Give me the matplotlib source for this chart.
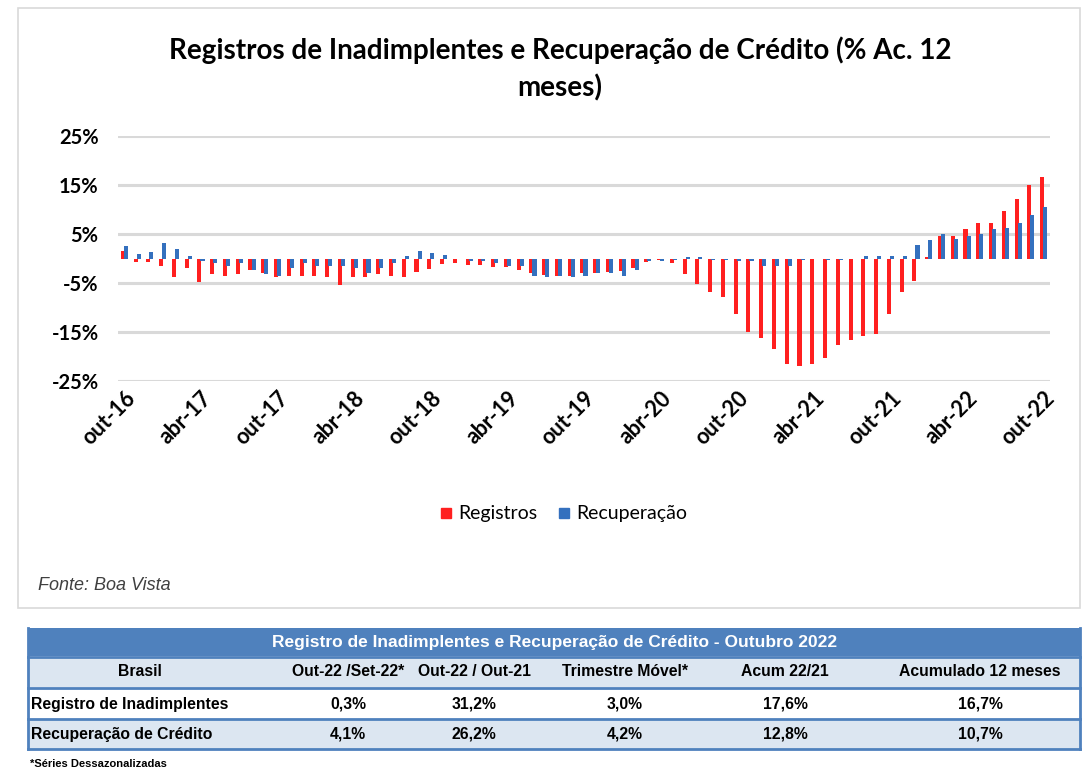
import matplotlib
matplotlib.use("Agg")
import matplotlib.pyplot as plt
from matplotlib.patches import Rectangle
from matplotlib.lines import Line2D

plt.rcParams['font.family'] = ['Lato', 'DejaVu Sans']

# monthly series, out-16 .. out-22 (% acumulado 12 meses)
registros = [1.5, -0.7, -0.8, -1.5, -3.8, -2.0, -4.8, -3.1, -3.5, -3.1,
             -2.4, -3.0, -3.8, -3.5, -3.5, -3.5, -3.8, -5.5, -3.8, -3.8,
             -3.1, -3.5, -3.8, -2.8, -2.1, -1.1, -1.0, -1.4, -1.4, -1.8,
             -1.8, -2.3, -3.0, -3.4, -3.5, -3.5, -3.0, -3.0, -2.8, -2.5,
             -2.0, -0.8, -0.3, -1.0, -3.1, -5.2, -6.9, -7.9, -11.3, -15.0,
             -16.3, -18.4, -21.5, -22.0, -21.6, -20.3, -17.7, -16.6, -15.8, -15.4,
             -11.4, -6.8, -4.5, 0.3, 4.6, 4.5, 6.1, 7.2, 7.2, 9.7,
             12.1, 15.1, 16.7]
recuperacao = [2.5, 1.0, 1.3, 3.1, 2.0, 0.6, -0.5, -1.0, -1.5, -1.0,
               -2.4, -3.1, -3.5, -2.0, -1.0, -1.5, -1.5, -1.5, -2.0, -3.0,
               -2.0, -1.0, 0.5, 1.5, 1.2, 0.7, 0.0, -0.5, -0.5, -1.0,
               -1.5, -1.5, -3.5, -3.8, -3.5, -3.8, -3.5, -3.0, -3.0, -3.5,
               -2.3, -0.5, -0.5, -0.3, 0.3, 0.3, -0.3, -0.3, -0.5, -0.5,
               -1.5, -1.5, -1.5, -0.3, 0.0, -0.3, -0.3, 0.0, 0.6, 0.6,
               0.5, 0.5, 2.7, 3.8, 5.0, 4.0, 4.5, 5.0, 6.0, 6.2,
               7.2, 8.8, 10.6]
tick_labels = ['out-16', 'abr-17', 'out-17', 'abr-18', 'out-18', 'abr-19', 'out-19',
               'abr-20', 'out-20', 'abr-21', 'out-21', 'abr-22', 'out-22']
yticks = [25, 15, 5, -5, -15, -25]

# table
tab_title = 'Registro de Inadimplentes e Recuperação de Crédito - Outubro 2022'
tab_header = ['Brasil', 'Out-22 /Set-22*', 'Out-22 / Out-21', 'Trimestre Móvel*',
              'Acum 22/21', 'Acumulado 12 meses']
tab_rows = [['Registro de Inadimplentes', '0,3%', '31,2%', '3,0%', '17,6%', '16,7%'],
            ['Recuperação de Crédito', '4,1%', '26,2%', '4,2%', '12,8%', '10,7%']]

RED = '#FF1F1F'
BLUE = '#3470BE'
W, H = 1087, 771

fig = plt.figure(figsize=(W / 100, H / 100), dpi=100)

# background overlay in pixel coordinates
bg = fig.add_axes([0, 0, 1, 1])
bg.set_xlim(0, W)
bg.set_ylim(H, 0)
bg.axis('off')
bg.add_patch(Rectangle((18, 8), 1062, 600, fill=False, ec='#D9D9D9', lw=1.2))

ax = fig.add_axes([118 / W, 1 - 381 / H, (1050 - 118) / W, (381 - 136) / H])
x = list(range(len(registros)))
ax.bar([i - 0.12 for i in x], registros, width=0.32, color=RED, zorder=3)
ax.bar([i + 0.12 for i in x], recuperacao, width=0.32, color=BLUE, zorder=4)
ax.set_xlim(-0.5, len(x) - 0.5)
ax.set_ylim(-25, 25)
ax.set_yticks(yticks)
ax.set_yticklabels([f'{v}%' for v in yticks], fontsize=14.5, fontweight='bold')
ax.yaxis.grid(True, color='#D9D9D9', lw=2.2, zorder=0)
ax.set_axisbelow(True)
ax.set_xticks(x[::6])
ax.set_xticklabels(tick_labels, rotation=45, ha='right', va='top',
                   rotation_mode='anchor', fontsize=15.5, fontweight='bold')
ax.tick_params(axis='x', length=0, pad=5)
ax.tick_params(axis='y', length=0, pad=14)
for s in ax.spines.values():
    s.set_visible(False)

fig.text(560 / W, 1 - 50 / H, 'Registros de Inadimplentes e Recuperação de Crédito (% Ac. 12',
         ha='center', va='center', fontsize=20, fontweight='bold')
fig.text(560 / W, 1 - 88 / H, 'meses)', ha='center', va='center', fontsize=20, fontweight='bold')

handles = [Line2D([], [], marker='s', color=RED, ls='none', markersize=7),
           Line2D([], [], marker='s', color=BLUE, ls='none', markersize=7)]
fig.legend(handles, ['Registros', 'Recuperação'], loc='center',
           bbox_to_anchor=(563 / W, 1 - 514 / H), ncol=2, frameon=False,
           fontsize=14, handlelength=0.7, handletextpad=0.3, columnspacing=1.0)

bg.text(38, 585, 'Fonte: Boa Vista', fontsize=13, style='italic', color='#404040',
        family='Liberation Sans', va='center')

# table drawing
tx0, tx1 = 28, 1080
col_cx = [None, 348, 474, 625, 785, 980]
tfont = dict(family='Liberation Sans', fontweight='bold', fontsize=11.3)
bg.add_patch(Rectangle((tx0, 628), tx1 - tx0, 28, fc='#4F81BD', ec='none'))
bg.text(555, 642, tab_title, ha='center', va='center', color='white',
        family='Liberation Sans', fontweight='bold', fontsize=12.5)
bg.add_patch(Rectangle((tx0, 657), tx1 - tx0, 30, fc='#DCE6F1', ec='none'))
bg.text(140, 672, tab_header[0], ha='center', va='center', **tfont)
for c in range(1, 6):
    bg.text(col_cx[c], 672, tab_header[c], ha='center', va='center', **tfont)
row_y = [704, 734]
row_fc = ['white', '#DCE6F1']
for r, row in enumerate(tab_rows):
    bg.add_patch(Rectangle((tx0, row_y[r] - 15), tx1 - tx0, 30, fc=row_fc[r], ec='none'))
    bg.text(tx0 + 3, row_y[r], row[0], ha='left', va='center', **tfont)
    for c in range(1, 6):
        bg.text(col_cx[c], row_y[r], row[c], ha='center', va='center', **tfont)
for yl in [656.5, 688, 719, 749]:
    bg.plot([tx0, tx1], [yl, yl], color='#4F81BD', lw=2)
bg.plot([tx0, tx0], [628, 749], color='#4F81BD', lw=2)
bg.plot([tx1, tx1], [628, 749], color='#4F81BD', lw=2)

bg.text(30, 759, '*Séries Dessazonalizadas', fontsize=8, va='top',
        family='Liberation Sans', fontweight='bold')

fig.savefig('out.png', dpi=100)
